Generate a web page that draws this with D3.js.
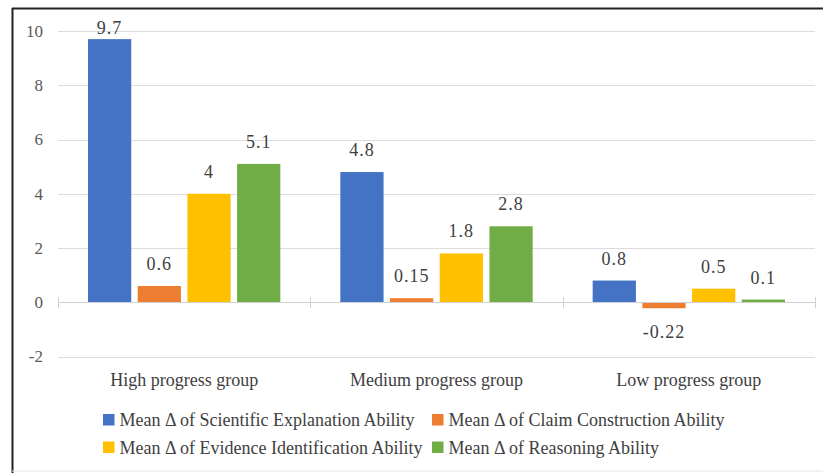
<!DOCTYPE html>
<html>
<head>
<meta charset="utf-8">
<script src="https://cdn.jsdelivr.net/npm/d3@7"></script>
<style>
  html, body { margin: 0; padding: 0; background: #fff; }
  svg { display: block; }
</style>
</head>
<body>
<svg id="chart" width="823" height="473"></svg>
<script>
// Group categories and the four measured abilities
const categories = ["High progress group", "Medium progress group", "Low progress group"];
const seriesNames = [
  "Mean \u0394 of Scientific Explanation Ability",
  "Mean \u0394 of Claim Construction Ability",
  "Mean \u0394 of Evidence Identification Ability",
  "Mean \u0394 of Reasoning Ability"
];
const scientificExplanation = [9.7, 4.8, 0.8];
const claimConstruction = [0.6, 0.15, -0.22];
const evidenceIdentification = [4, 1.8, 0.5];
const reasoning = [5.1, 2.8, 0.1];
const yTicks = [-2, 0, 2, 4, 6, 8, 10];
const seriesColors = ["#4472C4", "#ED7D31", "#FFC000", "#70AD47"];

const FONT = "'Liberation Serif', 'Times New Roman', 'DejaVu Serif', serif";

const seriesValues = [scientificExplanation, claimConstruction, evidenceIdentification, reasoning];
const table = categories.map((c, i) => ({
  category: c,
  values: seriesNames.map((s, j) => ({ series: s, idx: j, value: seriesValues[j][i] }))
}));

const svg = d3.select("#chart").attr("font-family", FONT);

// Frame
svg.append("line").attr("x1", 12).attr("x2", 823).attr("y1", 8.5).attr("y2", 8.5)
  .attr("stroke", "#222").attr("stroke-width", 2);
svg.append("line").attr("x1", 12.5).attr("x2", 12.5).attr("y1", 8).attr("y2", 473)
  .attr("stroke", "#222").attr("stroke-width", 2);
svg.append("line").attr("x1", 12).attr("x2", 823).attr("y1", 471).attr("y2", 471)
  .attr("stroke", "#e4e4e4").attr("stroke-width", 1);

const plotLeft = 58, plotRight = 815;
const y = d3.scaleLinear().domain([-2, 10]).range([356.5, 31]);

const x0 = d3.scaleBand().domain(categories).range([plotLeft, plotRight]).padding(0);
const groupPad = 30;
const x1 = d3.scaleBand().domain(seriesNames)
  .range([groupPad, x0.bandwidth() - groupPad]).paddingInner(0.13);

// Horizontal gridlines
svg.append("g").selectAll("line").data(yTicks.filter(t => t !== 0)).join("line")
  .attr("x1", plotLeft).attr("x2", plotRight)
  .attr("y1", d => Math.round(y(d)) + 0.5).attr("y2", d => Math.round(y(d)) + 0.5)
  .attr("stroke", "#dcdcdc").attr("stroke-width", 1);

// Y tick labels
svg.append("g").selectAll("text").data(yTicks).join("text")
  .attr("x", 43).attr("y", d => y(d)).attr("dy", "0.35em")
  .attr("text-anchor", "end").attr("font-size", 17).attr("fill", "#595959")
  .text(d => d);

// Bars
const groups = svg.append("g").selectAll("g").data(table).join("g")
  .attr("transform", d => `translate(${x0(d.category)},0)`);

groups.selectAll("rect").data(d => d.values).join("rect")
  .attr("x", d => x1(d.series))
  .attr("width", x1.bandwidth())
  .attr("y", d => y(Math.max(0, d.value)))
  .attr("height", d => Math.abs(y(d.value) - y(0)))
  .attr("fill", d => seriesColors[d.idx]);

// Value labels
groups.selectAll("text").data(d => d.values).join("text")
  .attr("x", d => x1(d.series) + x1.bandwidth() / 2)
  .attr("y", d => d.value >= 0 ? Math.max(y(d.value) - 16, 34) : y(d.value) + 30)
  .attr("text-anchor", "middle").attr("font-size", 18).attr("letter-spacing", 1)
  .attr("fill", "#404040")
  .text(d => d.value);

// Zero axis line with category separators
const axis = svg.append("g");
axis.append("line").attr("x1", plotLeft).attr("x2", plotRight)
  .attr("y1", Math.round(y(0)) + 0.5).attr("y2", Math.round(y(0)) + 0.5)
  .attr("stroke", "#d0d0d0").attr("stroke-width", 1);
const sepX = categories.map(c => x0(c)).concat([plotRight]);
axis.selectAll("line.sep").data(sepX).join("line").attr("class", "sep")
  .attr("x1", d => Math.round(d) + 0.5).attr("x2", d => Math.round(d) + 0.5)
  .attr("y1", y(0) - 5).attr("y2", y(0) + 6)
  .attr("stroke", "#d0d0d0").attr("stroke-width", 1);

// Category labels
svg.append("g").selectAll("text").data(categories).join("text")
  .attr("x", d => x0(d) + x0.bandwidth() / 2).attr("y", 380).attr("dy", "0.35em")
  .attr("text-anchor", "middle").attr("font-size", 18).attr("fill", "#404040")
  .text(d => d);

// Legend: two rows of swatch + label
const legendItems = [
  { name: seriesNames[0], color: seriesColors[0], x: 103, y: 420 },
  { name: seriesNames[1], color: seriesColors[1], x: 432, y: 420 },
  { name: seriesNames[2], color: seriesColors[2], x: 103, y: 447.5 },
  { name: seriesNames[3], color: seriesColors[3], x: 432, y: 447.5 }
];
const legend = svg.append("g").selectAll("g").data(legendItems).join("g")
  .attr("transform", d => `translate(${d.x},${d.y})`);
legend.append("rect").attr("x", 0).attr("y", -6).attr("width", 11.5).attr("height", 11.5)
  .attr("fill", d => d.color);
legend.append("text").attr("x", 16.5).attr("y", 0).attr("dy", "0.35em")
  .attr("font-size", 18).attr("fill", "#404040")
  .text(d => d.name);
</script>
</body>
</html>
